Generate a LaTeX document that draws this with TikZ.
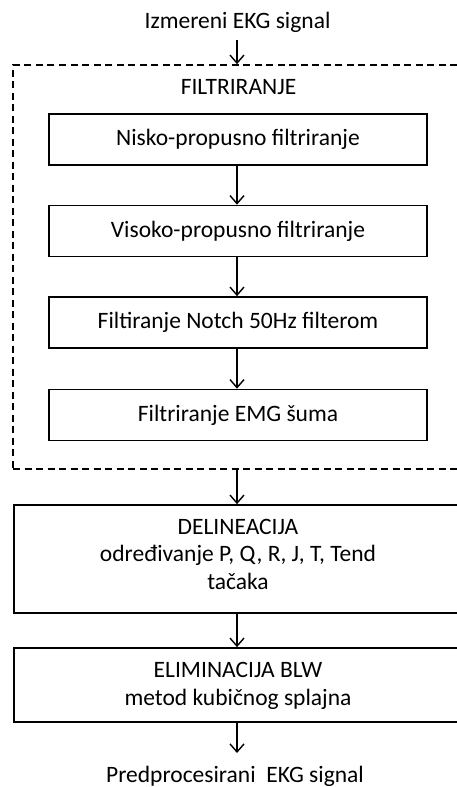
\documentclass[tikz,border=0pt]{standalone}
\usepackage{fontspec}
\setmainfont{Carlito}
\usetikzlibrary{arrows.meta}
\tikzset{
  flowbox/.style={draw, line width=1.7pt, rectangle, inner sep=0pt, align=center},
  groupbox/.style={draw, line width=1.7pt, dash pattern=on 7pt off 4.5pt, rectangle, inner sep=0pt},
  flowarrow/.style={line width=1.4pt, -{Straight Barb[length=8pt,width=14pt,line width=1.4pt]}},
  labeltext/.style={inner sep=0pt, align=center},
}
\begin{document}
\begin{tikzpicture}[x=1pt, y=-1pt, font=\fontsize{23.5}{27.5}\selectfont]
  \useasboundingbox (0,0) rectangle (457,787);
  \clip (0,0) rectangle (457,787);

  % input signal
  \node[labeltext] (input) at (237.5,22) {Izmereni EKG signal};
  \coordinate (instart) at (237,40);

  % filtering stage (dashed group)
  \node[groupbox, minimum width=457pt, minimum height=404pt] (filter) at (241.5,267) {};
  \node[labeltext] (filtertitle) at (238.5,87) {FILTRIRANJE};

  \node[flowbox, minimum width=378pt, minimum height=51pt] (lowpass) at (238,139.5) {Nisko-propusno filtriranje};
  \node[flowbox, minimum width=378pt, minimum height=51pt] (highpass) at (238,231) {Visoko-propusno filtriranje};
  \node[flowbox, minimum width=378pt, minimum height=51pt] (notch) at (238,322.5) {Filtiranje Notch 50Hz filterom};
  \node[flowbox, minimum width=378pt, minimum height=51pt] (emg) at (238,415) {Filtriranje EMG šuma};

  % delineation
  \node[flowbox, minimum width=456pt, minimum height=108pt] (delin) at (242,559) {};
  \node[labeltext] (delintext) at (238,554) {DELINEACIJA\\određivanje P, Q, R, J, T, Tend\\tačaka};

  % baseline wander elimination
  \node[flowbox, minimum width=456pt, minimum height=74pt] (blw) at (242,685) {};
  \node[labeltext] (blwtext) at (238,686) {ELIMINACIJA BLW\\metod kubičnog splajna};

  % output signal
  \node[labeltext] (output) at (235,776) {Predprocesirani\ \ EKG signal};
  \coordinate (outend) at (237,753);

  % connectors
  \draw[flowarrow] (instart) -- (237,0 |- filter.north);
  \draw[flowarrow] (237,0 |- lowpass.south) -- (237,0 |- highpass.north);
  \draw[flowarrow] (237,0 |- highpass.south) -- (237,0 |- notch.north);
  \draw[flowarrow] (237,0 |- notch.south) -- (237,0 |- emg.north);
  \draw[flowarrow] (237,0 |- filter.south) -- (237,0 |- delin.north);
  \draw[flowarrow] (237,0 |- delin.south) -- (237,0 |- blw.north);
  \draw[flowarrow] (237,0 |- blw.south) -- (outend);
\end{tikzpicture}
\end{document}
